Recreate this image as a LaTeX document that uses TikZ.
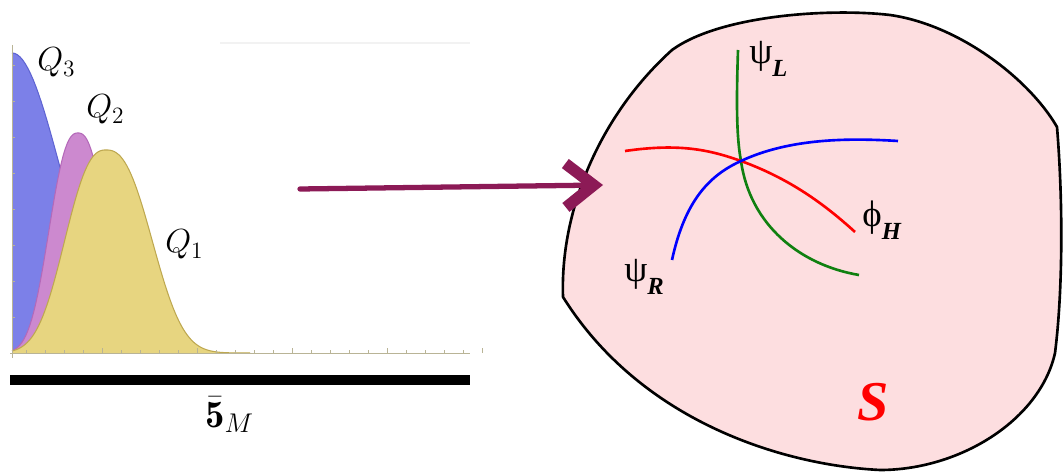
\RequirePackage{fix-cm}
\documentclass[tikz,border=0pt]{standalone}
\usepackage{amsmath,amssymb}
\usepackage{fontspec}
\newfontfamily\labfont{Liberation Serif}
\usepackage{tikz}
\usetikzlibrary{positioning,arrows.meta}

\definecolor{qblue}{RGB}{124,128,232}
\definecolor{qblueedge}{RGB}{95,100,210}
\definecolor{qpurple}{RGB}{204,137,207}
\definecolor{qpurpleedge}{RGB}{180,105,185}
\definecolor{qyellow}{RGB}{231,213,128}
\definecolor{qyellowedge}{RGB}{190,168,80}
\definecolor{axisgray}{RGB}{185,180,150}
\definecolor{blobpink}{RGB}{253,222,224}
\definecolor{brushred}{RGB}{140,26,86}
\definecolor{fieldgreen}{RGB}{16,128,16}

\newcommand{\qsize}{\fontsize{19}{22}\selectfont}
\newcommand{\fieldlab}[2]{{\fontsize{21}{21}\selectfont #1}\raisebox{-7pt}{\fontsize{14}{14}\selectfont\bfseries\itshape #2}}

\begin{document}
\begin{tikzpicture}[x=0.02cm, y=-0.02cm,
    hump/.style={line width=0.6pt},
    tick/.style={draw=axisgray, line width=0.5pt},
    field/.style={line width=1.5pt},
    lab/.style={inner sep=0pt, anchor=base west},
    brush/.style={draw=brushred, line width=3pt, line cap=round, -{Straight Barb[length=16pt, width=25pt, line width=6.5pt]}}
]
\useasboundingbox (0,0) rectangle (1064,472);

% --- Perfiles Q3, Q2, Q1 ---
\fill[qblue] (12,353) -- plot[domain=12:170, samples=60] (\x,{353-300*exp(-((\x-12)/49)^2/2)}) -- (170,353) -- cycle;
\draw[hump, qblueedge] plot[domain=12:170, samples=60] (\x,{353-300*exp(-((\x-12)/49)^2/2)});
\fill[qpurple] (12,353) -- plot[domain=12:168, samples=80] (\x,{353-220*exp(-(abs(\x-78)/36)^2*sqrt(abs(\x-78)/36))}) -- (168,353) -- cycle;
\draw[hump, qpurpleedge] plot[domain=12:168, samples=80] (\x,{353-220*exp(-(abs(\x-78)/36)^2*sqrt(abs(\x-78)/36))});
\fill[qyellow] (12,353) -- plot[domain=12:106, samples=50] (\x,{353-203*exp(-(abs(\x-106)/51)^2*sqrt(abs(\x-106)/51))})
    -- plot[domain=106:250, samples=70] (\x,{353-203*exp(-(abs(\x-106)/57)^2*sqrt(abs(\x-106)/57))}) -- (250,353) -- cycle;
\draw[hump, qyellowedge] plot[domain=12:106, samples=50] (\x,{353-203*exp(-(abs(\x-106)/51)^2*sqrt(abs(\x-106)/51))})
    -- plot[domain=106:250, samples=70] (\x,{353-203*exp(-(abs(\x-106)/57)^2*sqrt(abs(\x-106)/57))});

% --- Ejes ---
\draw[black!5, line width=0.8pt] (220,43) -- (470,43);
\draw[tick] (10,353) -- (470,353);
\draw[tick] (12,45) -- (12,358);
\foreach \t in {0,...,23} \draw[tick] ({26+19*\t},353) -- ++(0,-3);
\foreach \t in {0,...,4} \draw[tick] ({102+95*\t},353) -- ++(0,-5);
\foreach \t in {1,...,8} \draw[tick] (12,{353-36*\t}) -- ++(3,0);
\fill (10,375) rectangle (470,385);

% --- Etiquetas ---
\node[lab, font=\qsize] (q3) at (37,71) {$Q_3$};
\node[lab, font=\qsize] (q2) at (86,118) {$Q_2$};
\node[lab, font=\qsize] (q1) at (165,253) {$Q_1$};
\node[lab, font=\fontsize{22}{26}\selectfont] (rep) at (205,427) {$\bar{\mathbf{5}}_M$};

% --- Superficie S ---
\draw[fill=blobpink, line width=1.5pt, line join=round]
    (563,297) .. controls (560,210) and (600,115) .. (672,50)
    .. controls (720,15) and (830,8) .. (890,15)
    .. controls (960,25) and (1030,80) .. (1057,127)
    .. controls (1063,200) and (1063,290) .. (1055,353)
    .. controls (1040,420) and (960,470) .. (880,470)
    .. controls (780,465) and (640,420) .. (563,297) -- cycle;

% --- Campos que se cortan ---
\coordinate (vertex) at (741,161);
\draw[field, fieldgreen] (738,50) .. controls (736,110) and (737,140) .. (vertex) .. controls (750,225) and (800,265) .. (859,275);
\draw[field, red] (625,151) .. controls (680,143) and (710,150) .. (vertex) .. controls (785,177) and (820,200) .. (855,232);
\draw[field, blue] (672,260) .. controls (685,200) and (710,175) .. (vertex) .. controls (790,138) and (850,138) .. (898,141);

\node[lab, font=\labfont] (psiL) at (749,64) {\fieldlab{ψ}{L}};
\node[lab, font=\labfont] (phiH) at (862,227) {\fieldlab{ϕ}{H}};
\node[lab, font=\labfont] (psiR) at (624,282) {\fieldlab{ψ}{R}};
\node[font=\labfont\bfseries\itshape\fontsize{32}{32}\selectfont, text=red, inner sep=0pt] (surf) at (873,402) {S};

% --- Flecha ---
\coordinate (tail) at (300,189);
\coordinate (tip) at (603,185);
\draw[brush] (tail) -- (tip);

\end{tikzpicture}
\end{document}
